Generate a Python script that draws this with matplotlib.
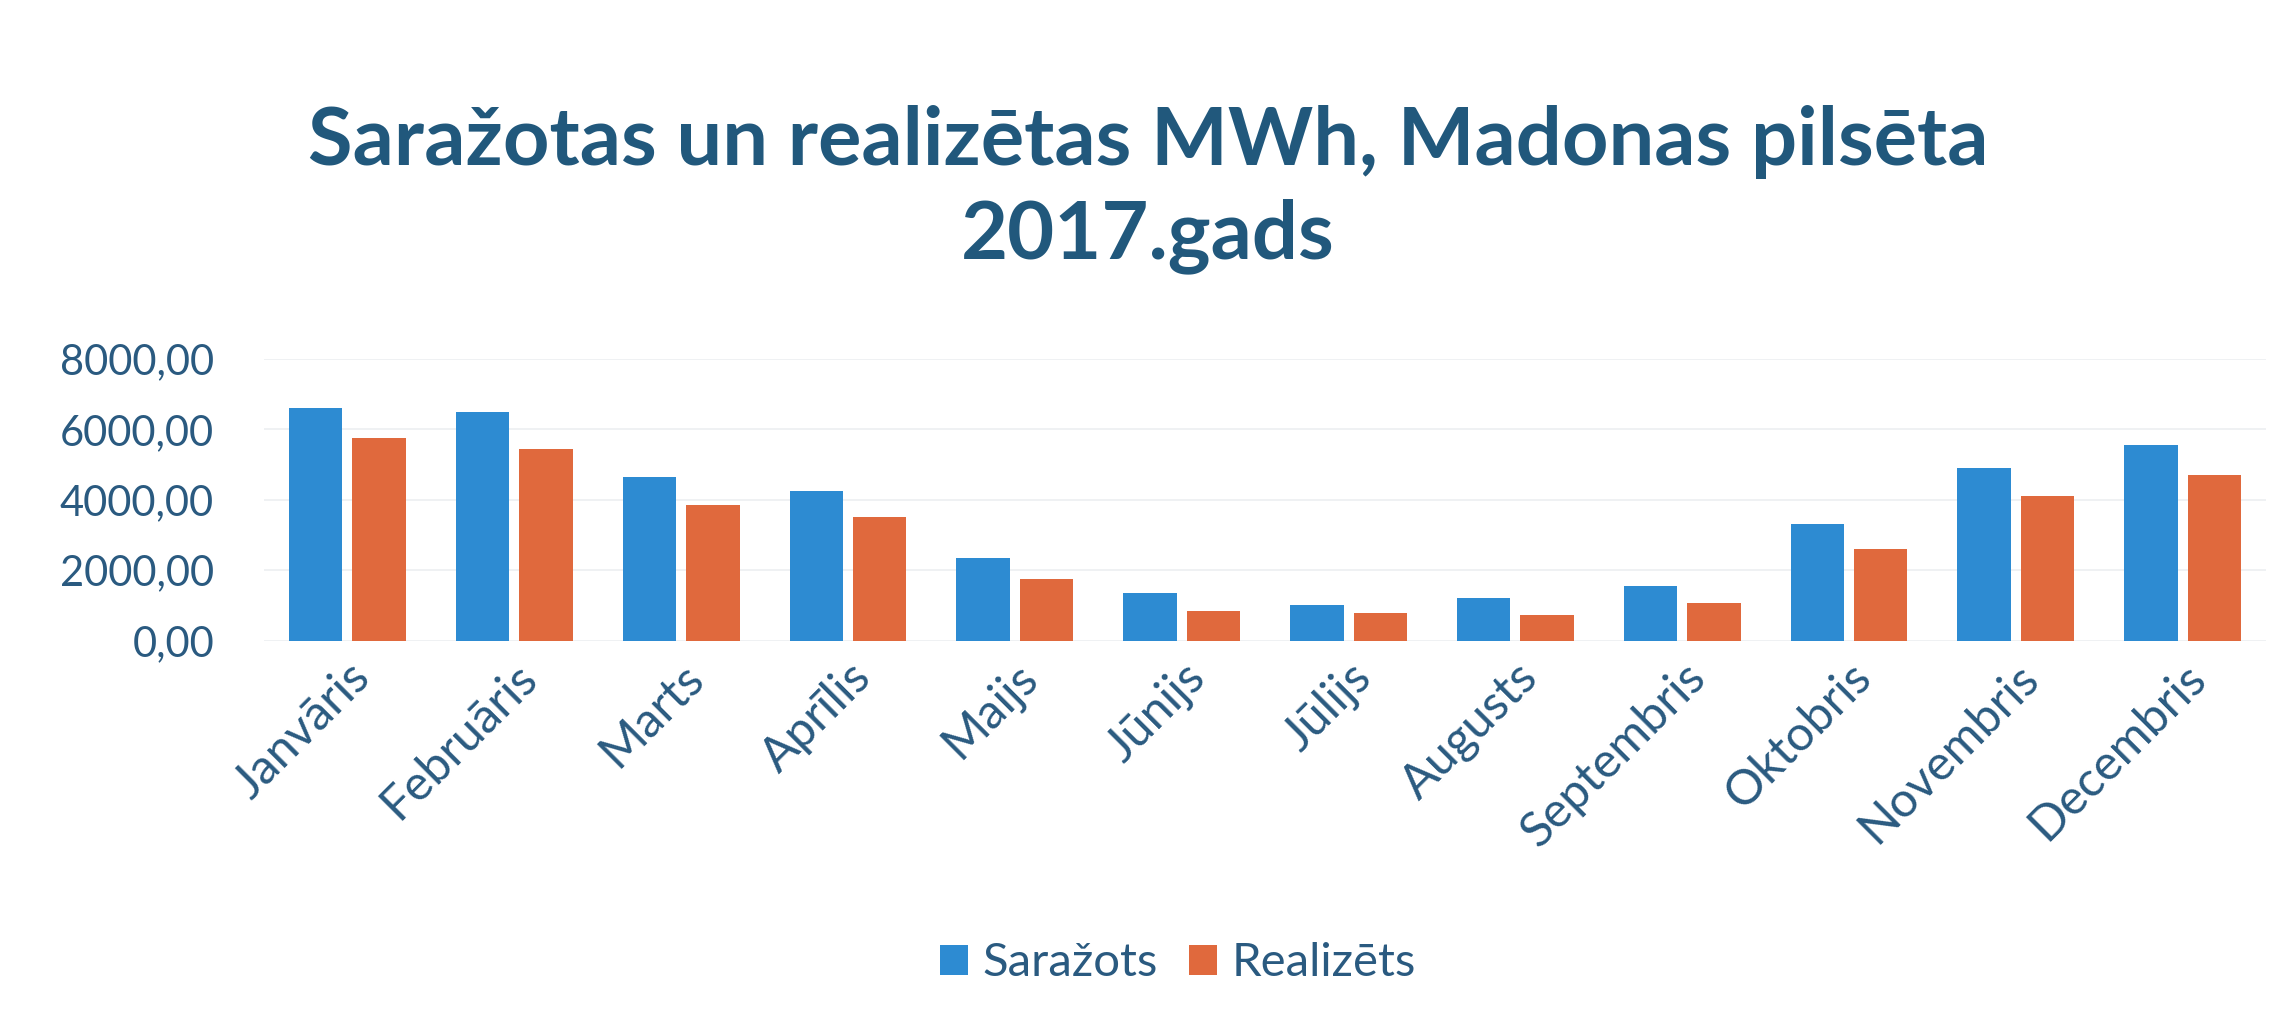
import matplotlib.pyplot as plt
import numpy as np
from matplotlib.ticker import FuncFormatter

months = ["Janvāris", "Februāris", "Marts", "Aprīlis", "Maijs", "Jūnijs",
          "Jūlijs", "Augusts", "Septembris", "Oktobris", "Novembris", "Decembris"]
sarazots = [6600, 6500, 4650, 4250, 2350, 1350, 1000, 1200, 1550, 3300, 4900, 5550]
realizets = [5750, 5450, 3850, 3500, 1750, 850, 780, 740, 1080, 2600, 4100, 4700]

BLUE = "#2D8BD2"
ORANGE = "#E0693D"
TEXT = "#2A5A80"

plt.rcParams["font.family"] = ["Lato", "DejaVu Sans"]

fig = plt.figure(figsize=(22.96, 10.25), dpi=100)
ax = fig.add_axes([0.115, 0.375, 0.872, 0.275])

x = np.arange(len(months))
w = 0.32
ax.bar(x - 0.19, sarazots, w, color=BLUE, label="Saražots")
ax.bar(x + 0.19, realizets, w, color=ORANGE, label="Realizēts")

ax.set_xlim(-0.5, len(months) - 0.5)
ax.set_ylim(0, 8000)
ax.set_yticks([0, 2000, 4000, 6000, 8000])
ax.yaxis.set_major_formatter(FuncFormatter(lambda v, p: f"{v:.2f}".replace(".", ",")))
ax.grid(axis="y", color="#ECEFF1", linewidth=1.2)
ax.set_axisbelow(True)
for s in ax.spines.values():
    s.set_visible(False)
ax.tick_params(length=0, colors=TEXT)
ax.tick_params(axis="y", labelsize=30, pad=36)
ax.set_xticks(x)
ax.set_xticklabels(months, rotation=45, ha="right", rotation_mode="anchor")
ax.tick_params(axis="x", labelsize=35, pad=10)

fig.text(0.5, 0.815, "Saražotas un realizētas MWh, Madonas pilsēta\n2017.gads",
         ha="center", va="center", fontsize=58.5, fontweight="bold", color="#21587C",
         linespacing=1.33)

fig.legend(loc="center", bbox_to_anchor=(0.513, 0.06), ncol=2, frameon=False,
           fontsize=34, labelcolor=TEXT, handlelength=0.6, handleheight=0.6,
           handletextpad=0.3, columnspacing=0.65)

fig.savefig("out.png", dpi=100, facecolor="white")
